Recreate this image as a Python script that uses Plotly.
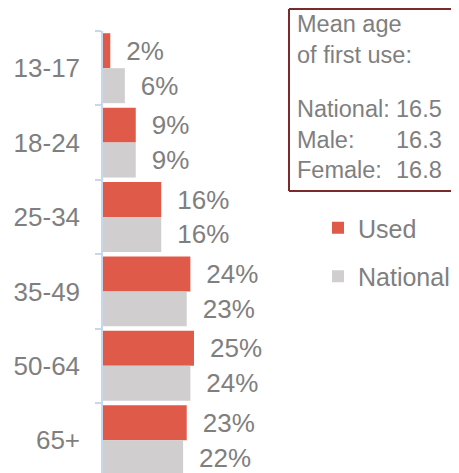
import plotly.graph_objects as go

# age groups and shares (%)
ages = ['13-17', '18-24', '25-34', '35-49', '50-64', '65+']
used = [2, 9, 16, 24, 25, 23]
national = [6, 9, 16, 23, 24, 22]

box_title = 'Mean age<br>of first use:'
box_labels = ['National:', 'Male:', 'Female:']
box_values = ['16.5', '16.3', '16.8']

# page has an 8px body margin, so figure coords = screen coords - 8
OFF = 8
W, H = 459, 473
L, T = 95, 23
PW, PH = W - L, H - T


def px_x(p):
    return (p - OFF - L) / PW


def px_y(p):
    return (H - (p - OFF)) / PH


FONT = 'Liberation Sans, Arial, sans-serif'
GREY = '#7f7f7f'
BOX = '#7a2a2a'

fig = go.Figure()
fig.add_trace(go.Bar(y=ages, x=used, name='Used', orientation='h',
                     marker=dict(color='#e05a4a', line=dict(width=0)),
                     texttemplate='\u2002%{x}%', textposition='outside',
                     constraintext='none', cliponaxis=False,
                     textfont=dict(size=26, color=GREY, family=FONT),
                     legendgroup='a'))
fig.add_trace(go.Bar(y=ages, x=national, name='National', orientation='h',
                     marker=dict(color='#d0cecf', line=dict(width=0)),
                     texttemplate='\u2002%{x}%', textposition='outside',
                     constraintext='none', cliponaxis=False,
                     textfont=dict(size=26, color=GREY, family=FONT),
                     legendgroup='b'))

fig.update_layout(
    width=W, height=H,
    margin=dict(l=L, r=0, t=T, b=0),
    barmode='group', bargap=0.06, bargroupgap=0,
    plot_bgcolor='white', paper_bgcolor='white',
    font=dict(family=FONT, color=GREY, size=26),
    legend=dict(x=px_x(318), y=px_y(205), xanchor='left', yanchor='top',
                font=dict(size=25, color=GREY), tracegroupgap=13,
                bgcolor='rgba(0,0,0,0)'),
)
fig.update_xaxes(range=[0, PW / 3.64], visible=False)
fig.update_yaxes(type='category', range=[-0.5 + PH / 74.4, -0.5], showgrid=False,
                 showline=True, linecolor='#c9d7ec', linewidth=1.5,
                 ticks='outside', tickson='boundaries', ticklen=6,
                 tickcolor='#c9d7ec', tickwidth=1.5, ticklabelstandoff=16,
                 tickfont=dict(size=26, color=GREY))

# info box, open on the right (it runs off the edge in the original)
bx0, bx1, by0, by1 = px_x(289), px_x(520), px_y(191), px_y(9)
for x0, y0, x1, y1 in [(bx0, by1, bx1, by1), (bx0, by0, bx1, by0), (bx0, by0, bx0, by1)]:
    fig.add_shape(type='line', xref='paper', yref='paper', x0=x0, y0=y0, x1=x1, y1=y1,
                  line=dict(color=BOX, width=2))
fig.add_annotation(xref='paper', yref='paper', x=px_x(295), y=px_y(39),
                   xanchor='left', yanchor='middle', align='left', showarrow=False,
                   text=box_title, font=dict(size=23.5, color=GREY))
fig.add_annotation(xref='paper', yref='paper', x=px_x(295), y=px_y(139),
                   xanchor='left', yanchor='middle', align='left', showarrow=False,
                   text='<br>'.join(box_labels), font=dict(size=23.5, color=GREY))
fig.add_annotation(xref='paper', yref='paper', x=px_x(394), y=px_y(139),
                   xanchor='left', yanchor='middle', align='left', showarrow=False,
                   text='<br>'.join(box_values), font=dict(size=23.5, color=GREY))

fig.write_html('out.html')
